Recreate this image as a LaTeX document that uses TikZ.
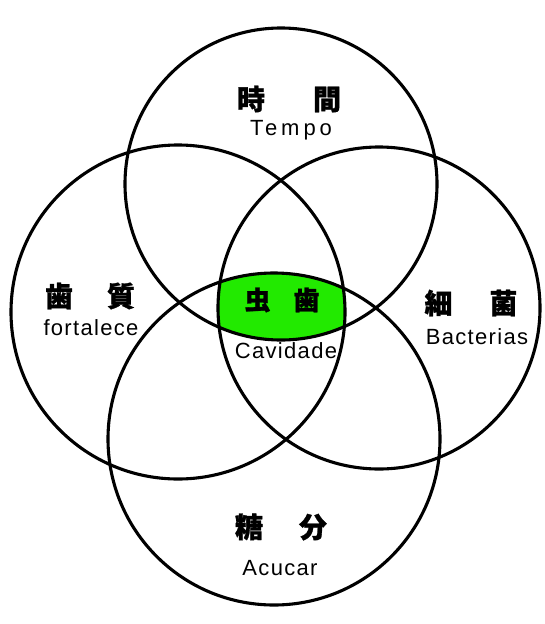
\documentclass[tikz,border=0pt]{standalone}
\usepackage{fontspec}
\setmainfont{Liberation Sans}
\newfontfamily\cjk[BoldFeatures={FakeBold=1}]{Noto Sans CJK JP}
\newfontfamily\latwide[LetterSpace=6]{Liberation Sans}
\newfontfamily\latvwide[LetterSpace=18]{Liberation Sans}
\definecolor{cavgreen}{RGB}{34,234,0}
\tikzset{
  ring/.style={draw=black, line width=3.1pt},
  jlabel/.style={inner sep=0pt, font=\cjk\bfseries\fontsize{28}{30}\selectfont},
  elabel/.style={inner sep=0pt, font=\latwide\fontsize{22}{24}\selectfont}
}
\begin{document}
\begin{tikzpicture}[x=1pt,y=-1pt]
\useasboundingbox[fill=white] (0,0) rectangle (544,624);
% green intersection of all four circles
\begin{scope}
  \clip (281,184) circle[radius=156pt];
  \clip (178,312) circle[radius=167pt];
  \clip (379,308) circle[radius=161pt];
  \clip (274,439) circle[radius=166pt];
  \fill[cavgreen] (0,0) rectangle (544,624);
\end{scope}
% circles
\draw[ring] (281,184) circle[radius=156pt];
\draw[ring] (178,312) circle[radius=167pt];
\draw[ring] (379,308) circle[radius=161pt];
\draw[ring] (274,439) circle[radius=166pt];
% labels
\node[jlabel] (tj) at (289,99) {時\hspace{48pt}間};
\node[inner sep=0pt, font=\latvwide\fontsize{22}{24}\selectfont] (te) at (291,130) {Tempo};
\node[jlabel] (lj) at (90,296) {歯\hspace{34pt}質};
\node[elabel] (le) at (91,328) {fortalece};
\node[jlabel] (rj) at (471,303) {細\hspace{37pt}菌};
\node[elabel] (re) at (477,337) {Bacterias};
\node[jlabel, font=\cjk\bfseries\fontsize{26}{28}\selectfont] (cj) at (282,300) {虫\hspace{23pt}歯};
\node[elabel] (ce) at (286,351) {Cavidade};
\node[jlabel] (bj) at (281,527) {糖\hspace{36pt}分};
\node[elabel] (be) at (280,568) {Acucar};
\end{tikzpicture}
\end{document}
